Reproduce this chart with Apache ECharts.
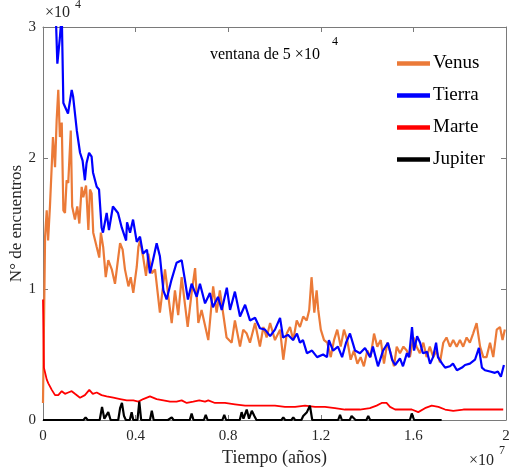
<!DOCTYPE html>
<html>
<head>
<meta charset="utf-8">
<script src="https://cdn.jsdelivr.net/npm/echarts@6/dist/echarts.min.js"></script>
<style>html,body{margin:0;padding:0;background:#fff}#c{width:509px;height:474px}</style>
</head>
<body>
<div id="c"></div>
<script>
// Time in units of 1e7 años, counts in units of 1e4
const xTicks = [0, 0.4, 0.8, 1.2, 1.6, 2];
const yTicks = [0, 1, 2, 3];
const seriesNames = ['Venus', 'Tierra', 'Marte', 'Jupiter'];

const venusT = [0.000,0.009,0.016,0.022,0.030,0.037,0.043,0.052,0.059,0.066,0.073,0.081,0.088,0.095,0.102,0.109,0.120,0.126,0.138,0.148,0.157,0.167,0.174,0.186,0.196,0.203,0.210,0.217,0.232,0.243,0.250,0.260,0.271,0.282,0.297,0.311,0.325,0.333,0.344,0.354,0.369,0.379,0.390,0.405,0.412,0.419,0.433,0.445,0.455,0.470,0.484,0.505,0.527,0.556,0.570,0.584,0.599,0.625,0.642,0.657,0.671,0.685,0.714,0.735,0.750,0.764,0.793,0.815,0.829,0.851,0.865,0.880,0.894,0.916,0.937,0.952,0.966,0.981,1.002,1.024,1.038,1.053,1.067,1.081,1.096,1.110,1.124,1.139,1.150,1.160,1.172,1.182,1.189,1.200,1.214,1.228,1.243,1.257,1.271,1.286,1.300,1.314,1.329,1.343,1.358,1.372,1.386,1.401,1.415,1.430,1.444,1.459,1.473,1.487,1.502,1.516,1.528,1.542,1.557,1.571,1.585,1.600,1.614,1.628,1.643,1.657,1.671,1.686,1.700,1.715,1.729,1.743,1.758,1.772,1.787,1.801,1.815,1.830,1.844,1.858,1.873,1.888,1.902,1.916,1.931,1.945,1.960,1.974,1.985,1.995];
const venusN = [0.13,1.40,1.60,1.37,1.63,1.91,2.16,1.93,2.29,2.52,2.16,2.27,1.60,1.58,1.83,1.81,2.21,1.63,1.53,1.63,1.50,1.78,1.70,1.79,1.45,1.76,1.73,1.43,1.32,1.24,1.43,1.32,1.09,1.22,1.15,1.04,1.24,1.35,1.30,1.15,1.02,1.09,0.97,1.17,1.32,1.37,1.24,1.10,1.27,1.12,1.15,0.82,1.15,0.74,0.99,0.80,1.09,0.71,0.97,1.16,0.74,0.84,0.61,1.02,0.82,0.99,0.63,0.59,0.76,0.56,0.69,0.66,0.59,0.74,0.56,0.71,0.63,0.74,0.61,0.69,0.46,0.66,0.71,0.61,0.76,0.71,0.79,0.76,0.84,1.09,0.82,0.99,0.84,0.69,0.61,0.59,0.48,0.61,0.69,0.56,0.69,0.61,0.46,0.53,0.43,0.48,0.41,0.53,0.48,0.66,0.56,0.61,0.43,0.59,0.51,0.41,0.56,0.51,0.56,0.53,0.48,0.63,0.56,0.51,0.59,0.48,0.56,0.48,0.53,0.44,0.59,0.63,0.56,0.61,0.56,0.61,0.56,0.63,0.59,0.66,0.74,0.56,0.48,0.48,0.59,0.48,0.69,0.71,0.61,0.69];

const tierraT = [0.050,0.056,0.062,0.073,0.081,0.088,0.108,0.124,0.130,0.146,0.160,0.171,0.181,0.188,0.199,0.210,0.216,0.232,0.242,0.253,0.259,0.275,0.285,0.302,0.324,0.340,0.359,0.363,0.376,0.389,0.405,0.419,0.432,0.449,0.462,0.475,0.491,0.505,0.520,0.534,0.555,0.577,0.599,0.613,0.626,0.642,0.664,0.678,0.700,0.721,0.734,0.756,0.772,0.794,0.808,0.829,0.851,0.873,0.894,0.916,0.937,0.959,0.981,1.002,1.024,1.037,1.058,1.080,1.097,1.110,1.123,1.140,1.162,1.184,1.210,1.227,1.235,1.253,1.274,1.292,1.309,1.326,1.348,1.369,1.391,1.413,1.425,1.447,1.469,1.477,1.490,1.508,1.521,1.542,1.555,1.572,1.581,1.594,1.603,1.616,1.629,1.641,1.659,1.672,1.685,1.698,1.706,1.724,1.737,1.758,1.771,1.788,1.810,1.823,1.844,1.866,1.883,1.896,1.909,1.931,1.952,1.965,1.978,1.991];
const tierraN = [3.30,3.05,2.72,2.92,3.10,2.42,2.34,2.52,2.47,2.21,2.04,1.98,1.83,1.96,2.04,2.01,1.89,1.78,1.76,1.47,1.43,1.58,1.45,1.63,1.58,1.47,1.37,1.51,1.43,1.53,1.36,1.40,1.27,1.30,1.12,1.22,1.35,1.25,0.99,0.92,1.07,1.20,1.22,1.07,0.92,1.04,0.94,1.04,0.89,0.97,0.86,0.94,0.84,1.01,0.84,0.98,0.79,0.88,0.76,0.78,0.70,0.69,0.64,0.69,0.78,0.63,0.65,0.61,0.66,0.59,0.61,0.51,0.53,0.48,0.50,0.48,0.61,0.53,0.56,0.48,0.59,0.66,0.53,0.51,0.55,0.48,0.56,0.41,0.53,0.53,0.59,0.46,0.42,0.47,0.41,0.51,0.48,0.71,0.53,0.64,0.59,0.51,0.52,0.43,0.48,0.59,0.48,0.43,0.40,0.41,0.43,0.38,0.40,0.42,0.43,0.46,0.55,0.40,0.38,0.37,0.36,0.37,0.33,0.42];

const marteT = [0.000,0.004,0.016,0.023,0.038,0.052,0.066,0.081,0.095,0.109,0.124,0.138,0.160,0.181,0.200,0.215,0.232,0.253,0.275,0.304,0.333,0.362,0.390,0.412,0.433,0.462,0.491,0.520,0.549,0.577,0.599,0.621,0.649,0.675,0.700,0.714,0.743,0.786,0.829,0.873,0.916,0.959,1.002,1.045,1.089,1.132,1.175,1.218,1.261,1.304,1.343,1.369,1.412,1.441,1.463,1.484,1.499,1.521,1.557,1.593,1.621,1.650,1.679,1.708,1.737,1.772,1.816,1.859,1.902,1.945,1.988];
const marteN = [0.92,0.40,0.31,0.28,0.23,0.19,0.19,0.22,0.20,0.21,0.22,0.20,0.17,0.19,0.23,0.20,0.21,0.19,0.18,0.17,0.16,0.15,0.15,0.14,0.16,0.18,0.16,0.15,0.14,0.14,0.15,0.13,0.14,0.15,0.14,0.15,0.13,0.13,0.12,0.11,0.11,0.11,0.11,0.10,0.10,0.11,0.10,0.10,0.09,0.08,0.08,0.08,0.09,0.11,0.13,0.13,0.10,0.08,0.08,0.08,0.06,0.09,0.11,0.10,0.08,0.07,0.08,0.08,0.08,0.08,0.08];

const jupiterT = [0,0.175,0.184,0.193,0.245,0.255,0.265,0.282,0.292,0.325,0.333,0.341,0.350,0.358,0.375,0.383,0.390,0.408,0.416,0.424,0.462,0.470,0.478,0.540,0.548,0.556,0.564,0.634,0.642,0.650,0.695,0.703,0.711,0.775,0.783,0.791,0.850,0.858,0.866,0.880,0.890,0.902,0.913,0.922,1.030,1.038,1.046,1.073,1.081,1.089,1.116,1.124,1.140,1.153,1.163,1.275,1.283,1.291,1.325,1.333,1.341,1.350,1.397,1.405,1.413,1.585,1.593,1.603,1.650,1.657,1.664,1.722];
const jupiterN = [0,0,0.02,0,0,0.10,0.01,0.06,0,0,0.09,0.13,0.03,0,0,0.06,0,0,0.14,0,0,0.07,0,0,0.01,0.02,0,0,0.05,0,0,0.04,0,0,0.04,0,0,0.06,0.01,0.08,0.01,0.07,0.03,0,0,0.02,0,0,0.02,0,0,0.03,0.06,0.11,0,0,0.04,0,0,0.03,0.04,0,0,0.03,0,0,0.05,0,0,0.01,0,0];

const zip = (t, n) => t.map((v, i) => [v, n[i]]);
const serif = 'Liberation Serif';
const txt = '#262626';
const boxColor = '#7a7a7a';

const chart = echarts.init(document.getElementById('c'), null, {renderer: 'canvas'});
const fmtX = v => (v === 0 || v === 2) ? String(v) : v.toFixed(1);

const lineSeries = (name, t, n, color, width) => ({
  name, type: 'line', data: zip(t, n), showSymbol: false, symbol: 'none',
  clip: true, lineStyle: {color, width}, itemStyle: {color}, z: 3
});

chart.setOption({
  animation: false,
  grid: {left: 43, top: 27, right: 3, bottom: 54, containLabel: false, outerBoundsMode: 'none'},
  xAxis: [{
    type: 'value', min: 0, max: 2, interval: 0.4, position: 'bottom',
    name: 'Tiempo (años)', nameLocation: 'middle', nameGap: 29, nameMoveOverlap: false,
    nameTextStyle: {fontFamily: serif, fontSize: 18, color: txt},
    axisLine: {show: true, onZero: false, lineStyle: {color: boxColor, width: 1}},
    axisTick: {show: true, inside: true, length: 5, lineStyle: {color: boxColor}},
    axisLabel: {formatter: fmtX, fontFamily: serif, fontSize: 15, color: txt, margin: 9},
    splitLine: {show: false}
  }, {
    type: 'value', min: 0, max: 2, interval: 0.4, position: 'top',
    axisLine: {show: true, onZero: false, lineStyle: {color: boxColor, width: 1}},
    axisTick: {show: true, inside: true, length: 5, lineStyle: {color: boxColor}},
    axisLabel: {show: false}, splitLine: {show: false}
  }],
  yAxis: [{
    type: 'value', min: 0, max: 3, interval: 1, position: 'left',
    name: 'N° de encuentros', nameLocation: 'middle', nameGap: 18, nameMoveOverlap: false,
    nameTextStyle: {fontFamily: serif, fontSize: 17, color: txt},
    axisLine: {show: true, onZero: false, lineStyle: {color: boxColor, width: 1}},
    axisTick: {show: true, inside: true, length: 5, lineStyle: {color: boxColor}},
    axisLabel: {fontFamily: serif, fontSize: 15, color: txt, margin: 7},
    splitLine: {show: false}
  }, {
    type: 'value', min: 0, max: 3, interval: 1, position: 'right',
    axisLine: {show: true, onZero: false, lineStyle: {color: boxColor, width: 1}},
    axisTick: {show: true, inside: true, length: 5, lineStyle: {color: boxColor}},
    axisLabel: {show: false}, splitLine: {show: false}
  }],
  legend: {
    orient: 'vertical', left: 392, top: 49, itemWidth: 33, itemHeight: 14, itemGap: 13,
    data: seriesNames.map(n => ({name: n, icon: 'path://M0,0 L1,0 L1,0.14 L0,0.14 Z'})),
    textStyle: {fontFamily: serif, fontSize: 19, color: '#000', lineHeight: 19, padding: [0,0,0,-2]}
  },
  series: [
    lineSeries(seriesNames[0], venusT, venusN, '#EB7A38', 2.2),
    lineSeries(seriesNames[1], tierraT, tierraN, '#0000FF', 2.2),
    lineSeries(seriesNames[2], marteT, marteN, '#FF0000', 1.8),
    lineSeries(seriesNames[3], jupiterT, jupiterN, '#000000', 2.2)
  ],
  graphic: [
    {type: 'text', left: 45, top: 5, style: {text: '×10', font: '16px "Liberation Serif"', fill: txt}},
    {type: 'text', left: 75, top: -1, style: {text: '4', font: '12px "Liberation Serif"', fill: txt}},
    {type: 'text', left: 469, top: 453, style: {text: '×10', font: '16px "Liberation Serif"', fill: txt}},
    {type: 'text', left: 499, top: 445, style: {text: '7', font: '12px "Liberation Serif"', fill: txt}},
    {type: 'text', left: 210, top: 47, style: {text: 'ventana de 5 ×10', font: '16px "Liberation Serif"', fill: '#000'}},
    {type: 'text', left: 332, top: 36, style: {text: '4', font: '12px "Liberation Serif"', fill: '#000'}}
  ]
});
</script>
</body>
</html>
